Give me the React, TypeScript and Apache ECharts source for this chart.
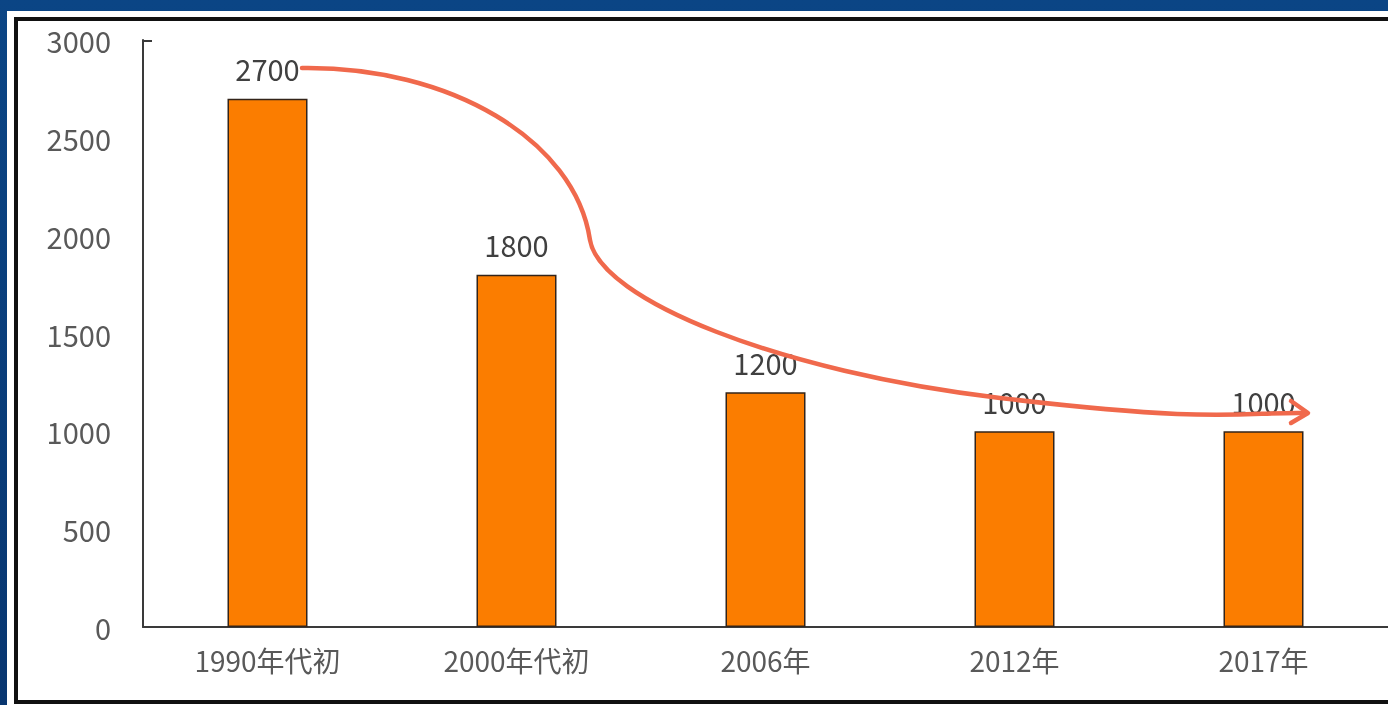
import React, { useEffect, useRef } from "react";
import * as echarts from "echarts";

const categories = ["1990年代初", "2000年代初", "2006年", "2012年", "2017年"];
const values = [2700, 1800, 1200, 1000, 1000];
const yTicks = [0, 500, 1000, 1500, 2000, 2500, 3000];

const FONT = "'Noto Sans CJK SC', 'Noto Sans', sans-serif";
const ARROW_D =
  "M302,68 C450,66 575,140 590,240 C600,300 780,372 1000,398 S1240,412 1304,413";

echarts.graphic.registerShape("arrowCurve", echarts.graphic.extendPath(ARROW_D, {}) as any);

export default function App() {
  const ref = useRef<HTMLDivElement>(null);
  useEffect(() => {
    if (!ref.current) return;
    const chart = echarts.init(ref.current, null, { renderer: "svg" });
    const option: any = {
      animation: false,
      backgroundColor: "transparent",
      grid: { left: 143, top: 40, right: -4, bottom: 78, containLabel: false },
      xAxis: {
        type: "category",
        data: categories,
        axisLine: { lineStyle: { color: "#3a3a3a", width: 2 } },
        axisTick: { show: false },
        axisLabel: { color: "#595959", fontSize: 28, fontFamily: FONT, margin: 19 },
      },
      yAxis: {
        type: "value",
        min: yTicks[0],
        max: yTicks[yTicks.length - 1],
        interval: 500,
        axisLine: { show: true, lineStyle: { color: "#3a3a3a", width: 2 } },
        axisTick: { show: false },
        splitLine: { show: false },
        axisLabel: {
          color: "#595959",
          fontSize: 29,
          fontFamily: FONT,
          margin: 32,
          formatter: (v: number) => String(v),
        },
      },
      series: [
        {
          type: "bar",
          data: values,
          barWidth: 80,
          itemStyle: { color: "#FB7D00", borderColor: "#33241a", borderWidth: 1.5 },
          label: {
            show: true,
            position: "top",
            distance: 16,
            color: "#404040",
            fontSize: 29,
            fontFamily: FONT,
          },
          z: 3,
        },
      ],
      graphic: [
        {
          type: "rect",
          z: -10,
          silent: true,
          shape: { x: 0, y: 0, width: 1388, height: 705 },
          style: {
            fill: new echarts.graphic.LinearGradient(0, 0, 0, 1, [
              { offset: 0, color: "#0b4585" },
              { offset: 1, color: "#083670" },
            ]),
          },
        },
        {
          type: "rect",
          z: -9,
          silent: true,
          shape: { x: 7, y: 11, width: 1400, height: 710 },
          style: { fill: "#ffffff" },
        },
        {
          type: "rect",
          z: -8,
          silent: true,
          shape: { x: 16, y: 19, width: 1400, height: 683 },
          style: { fill: "#ffffff", stroke: "#111111", lineWidth: 4 },
        },
        {
          type: "line",
          z: 5,
          silent: true,
          shape: { x1: 143, y1: 41, x2: 152, y2: 41 },
          style: { stroke: "#3a3a3a", lineWidth: 2 },
        },
        {
          type: "arrowCurve",
          z: 10,
          silent: true,
          x: 0,
          y: 0,
          style: { fill: null, stroke: "#F0694C", lineWidth: 4.5, lineCap: "round" },
        },
        {
          type: "polyline",
          z: 10,
          silent: true,
          shape: { points: [[1291, 401], [1308, 413], [1291, 423]] },
          style: { fill: null, stroke: "#F0694C", lineWidth: 4.5, lineCap: "round", lineJoin: "round" },
        },
      ],
    };
    chart.setOption(option);
    return () => chart.dispose();
  }, []);
  return (
    <div
      ref={ref}
      style={{ position: "fixed", left: 0, top: 0, width: 1388, height: 705 }}
    />
  );
}
